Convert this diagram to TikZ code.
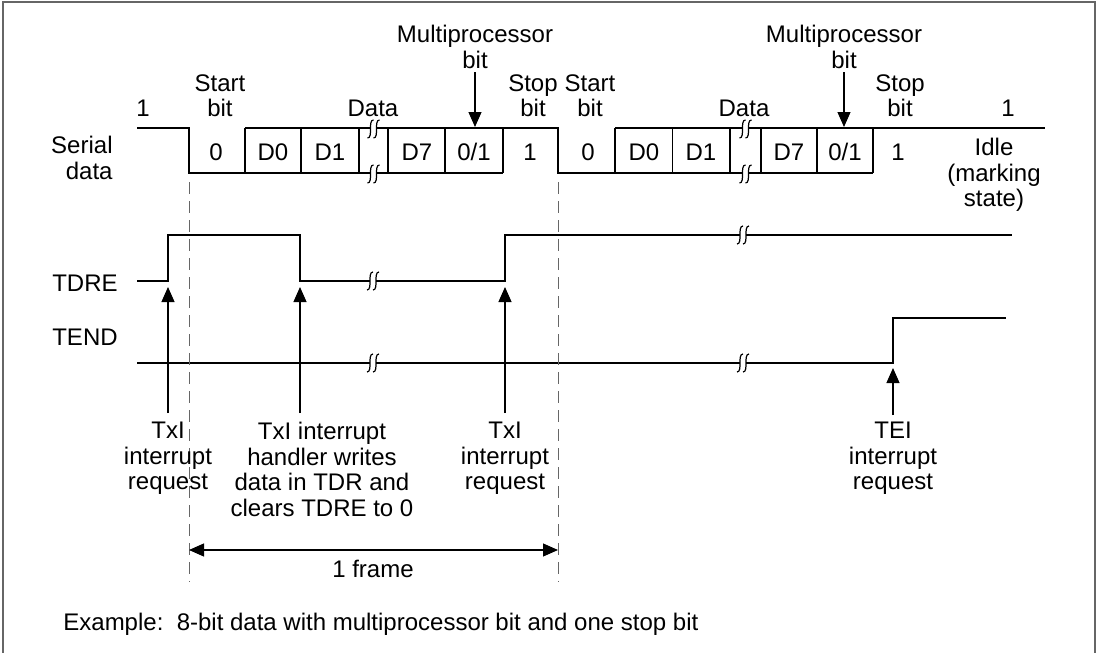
\documentclass[tikz,border=0pt]{standalone}
\usepackage{fontspec}
\setmainfont{Liberation Sans}
\usetikzlibrary{arrows.meta}

% break mark: two small S-curves across a line
\newcommand\brkmark[1]{%
  \begin{scope}[shift={(#1)}]
    \fill[white] (-3,-8) rectangle (3,8);
    \draw[line width=0.6pt] (0,-9) .. controls (-6,-9) and (0,9) .. (-6,9);
    \draw[line width=0.6pt] (6,-9) .. controls (0,-9) and (6,9) .. (0,9);
  \end{scope}}

\begin{document}
\begin{tikzpicture}[x=0.5pt,y=-0.5pt,
  lbl/.style={font=\fontsize{12}{12.75}\selectfont, inner sep=0pt, align=center},
  wave/.style={line width=1pt},
  cell/.style={line width=0.7pt},
  tip/.style={-{Triangle[length=7.5pt,width=6.5pt]}, line width=0.6pt},
  guide/.style={dash pattern=on 6pt off 3.5pt, line width=0.5pt, black!60}]

    \useasboundingbox (0,0) rectangle (1099,653);
    % Border
    \draw[line width=0.8pt, black!60] (3,653) -- (3,2) -- (1095,2) -- (1095,653);

    % Serial data
    \draw[cell] (137,128) -- (189,128) -- (189,173) -- (245,173);
    \draw[cell] (245,128) -- (558,128) -- (558,173) -- (615,173);
    \draw[cell] (245,173) -- (503,173);
    \foreach \x in {245,301,359,388,445,503}
      \draw[cell] (\x,128) -- (\x,173);
    \draw[cell] (615,128) -- (1045,128);
    \draw[cell] (615,173) -- (873,173);
    \foreach \x in {615,672.5,730,761,817,873}
      \draw[cell] (\x,128) -- (\x,173);
    \brkmark{373.5,129}
    \brkmark{373.5,174}
    \brkmark{745.5,129}
    \brkmark{745.5,174}

    % TDRE
    \draw[wave] (137,281) -- (168,281) -- (168,235) -- (300,235) -- (300,281)
      -- (505,281) -- (505,235) -- (1012,235);
    \brkmark{373,281}
    \brkmark{743,235}

    % TEND
    \draw[wave] (137,363) -- (893,363) -- (893,318) -- (1006,318);
    \brkmark{373,363}
    \brkmark{743,363}

    % Frame guides
    \coordinate (g1) at (189,182);
    \coordinate (g2) at (189,582);
    \coordinate (g3) at (558,182);
    \coordinate (g4) at (558,582);
    \draw[guide] (g1) -- (g2);
    \draw[guide] (g3) -- (g4);

    % Labels on the left
    \node[lbl, align=right, anchor=north east] (serial) at (113,136) {Serial\\data};
    \node[lbl, anchor=base] (tdre) at (85,291) {TDRE};
    \node[lbl, anchor=base] (tend) at (85,345) {TEND};

    % Bit names
    \node[lbl, anchor=base] (one1) at (143,116) {1};
    \node[lbl, anchor=north] (start1) at (220,74) {Start\\bit};
    \node[lbl, anchor=base] (data1) at (373,116) {Data};
    \node[lbl, anchor=north] (mp1) at (475,25) {Multiprocessor\\bit};
    \node[lbl, anchor=north] (stop1) at (533,74) {Stop\\bit};
    \node[lbl, anchor=north] (start2) at (590,74) {Start\\bit};
    \node[lbl, anchor=base] (data2) at (744,116) {Data};
    \node[lbl, anchor=north] (mp2) at (844,25) {Multiprocessor\\bit};
    \node[lbl, anchor=north] (stop2) at (900,74) {Stop\\bit};
    \node[lbl, anchor=base] (one2) at (1008,116) {1};
    \node[lbl, anchor=north] (idle) at (994,138) {Idle\\(marking\\state)};

    % Bit values
    \foreach \x/\t [count=\i] in {216/0,273/D0,330/D1,417/D7,474/0\slash 1,530/1,
        588/0,644/D0,701/D1,789/D7,845/0\slash 1,898/1}
      \node[lbl, anchor=base] (v\i) at (\x,160) {\t};

    % Multiprocessor bit arrows
    \coordinate (m1) at (475,72);
    \coordinate (mt1) at (475,127);
    \coordinate (m2) at (844,72);
    \coordinate (mt2) at (844,127);
    \draw[tip] (m1) -- (mt1);
    \draw[tip] (m2) -- (mt2);

    % Interrupt arrows
    \coordinate (q1) at (168,413);
    \coordinate (p1) at (168,287);
    \coordinate (q2) at (300,413);
    \coordinate (p2) at (300,287);
    \coordinate (q3) at (505,413);
    \coordinate (p3) at (505,287);
    \coordinate (q4) at (893,415);
    \coordinate (p4) at (893,368);
    \draw[tip] (q1) -- (p1);
    \draw[tip] (q2) -- (p2);
    \draw[tip] (q3) -- (p3);
    \draw[tip] (q4) -- (p4);

    \node[lbl, anchor=north] (txi1) at (168,422) {TxI\\interrupt\\request};
    \node[lbl, anchor=north] (txh) at (322,422) {TxI interrupt\\handler writes\\data in TDR and\\clears TDRE to 0};
    \node[lbl, anchor=north] (txi2) at (505,422) {TxI\\interrupt\\request};
    \node[lbl, anchor=north] (tei) at (893,422) {TEI\\interrupt\\request};

    % Frame width
    \coordinate (f1) at (189,550);
    \coordinate (f2) at (558,550);
    \draw[{Triangle[length=7.5pt,width=6.5pt]}-{Triangle[length=7.5pt,width=6.5pt]}, line width=0.6pt] (f1) -- (f2);
    \node[lbl, anchor=base] (frame) at (373,577) {1 frame};

    % Note
    \node[lbl, anchor=base west] (note) at (63,630) {Example:\ \ 8-bit data with multiprocessor bit and one stop bit};

\end{tikzpicture}
\end{document}
